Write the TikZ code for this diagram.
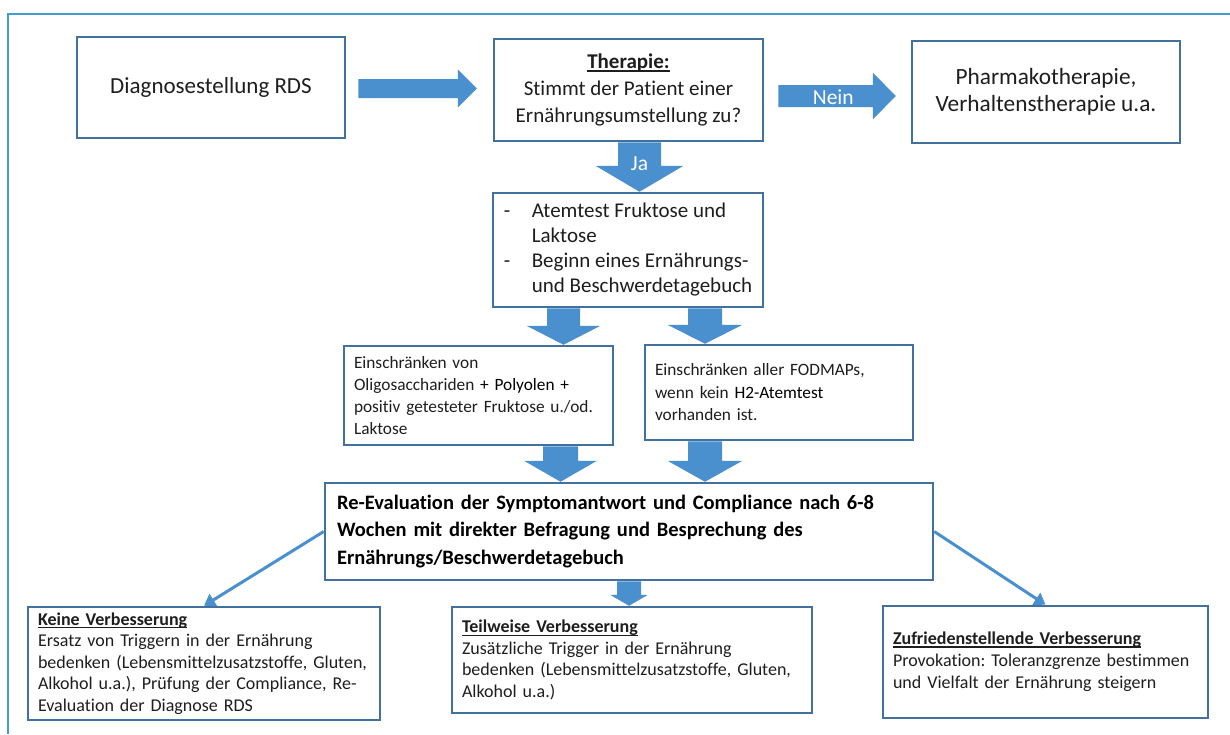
\documentclass[tikz,border=0pt]{standalone}
\usepackage{fontspec}
\setmainfont{Carlito}[Ligatures={NoCommon}]
\usepackage{tikz}
\usetikzlibrary{calc,arrows.meta}
\frenchspacing

\definecolor{boxline}{RGB}{65,113,156}
\definecolor{arrowfill}{RGB}{74,144,206}
\definecolor{framecol}{RGB}{67,155,212}
\definecolor{textgray}{RGB}{30,30,30}

\newsavebox{\hdlbox}
\newcommand{\hdl}[1]{\sbox{\hdlbox}{\textbf{#1}}\rlap{\rule[-3pt]{\wd\hdlbox}{1.3pt}}\usebox{\hdlbox}}
% block arrows: start, tip, shaft half width, head half width, head length
\newcommand{\blockdown}[5]{%
\fill[blockarrow] let \p1=(#1), \p2=(#2) in
(\x1-#3pt,\y1) -- (\x1+#3pt,\y1) -- (\x1+#3pt,\y2+#5pt) -- (\x1+#4pt,\y2+#5pt)
-- (\x1,\y2) -- (\x1-#4pt,\y2+#5pt) -- (\x1-#3pt,\y2+#5pt) -- cycle;}
\newcommand{\blockright}[5]{%
\fill[blockarrow] let \p1=(#1), \p2=(#2) in
(\x1,\y1+#3pt) -- (\x2-#5pt,\y1+#3pt) -- (\x2-#5pt,\y1+#4pt) -- (\x2,\y1)
-- (\x2-#5pt,\y1-#4pt) -- (\x2-#5pt,\y1-#3pt) -- (\x1,\y1-#3pt) -- cycle;}

\begin{document}
\begin{tikzpicture}[x=1pt,y=-1pt]
\tikzset{box/.style={draw=boxline, line width=2.5pt, fill=white, text=textgray, inner sep=0pt}}
\tikzset{textbox/.style={box, align=left, inner xsep=10pt}}
\tikzset{blockarrow/.style={fill=arrowfill}}
\tikzset{thinarrow/.style={draw=arrowfill, line width=3pt, -{Triangle[length=11pt,width=14pt]}}}
\tikzset{arrowlabel/.style={text=white, font=\fontsize{21.5}{25}\selectfont}}
\useasboundingbox (0,0) rectangle (1230,734);
\draw[framecol, line width=2pt] (8,734) -- (8,14) -- (1230,14);

% top row
\node[box, minimum width=268pt, minimum height=101pt, font=\fontsize{23}{28}\selectfont]
(diag) at (211,87.5) {Diagnosestellung RDS};
\node[box, minimum width=269pt, minimum height=102pt, align=center, font=\fontsize{21}{27}\selectfont]
(therapie) at (628.5,90) {\hdl{Therapie:}\\Stimmt der Patient einer\\Ernährungsumstellung zu?};
\node[box, minimum width=268pt, minimum height=102pt, align=center, font=\fontsize{23.3}{27}\selectfont]
(pharma) at (1046,92) {Pharmakotherapie,\\Verhaltenstherapie u.a.};

% diagnostics
\node[box, minimum width=270pt, minimum height=114pt, font=\fontsize{21}{25}\selectfont]
(liste) at (628,250) {\begin{tabular}{@{}p{28pt}@{}l@{}}
-&Atemtest Fruktose und\\&Laktose\\-&Beginn eines Ernährungs-\\&und Beschwerdetagebuch
\end{tabular}};
\node[textbox, minimum width=269pt, minimum height=99pt, text width=249pt, font=\fontsize{17.3}{22}\selectfont]
(einl) at (478.5,395.5) {Einschränken von\\Oligosacchariden \textcolor{black}{+ Polyolen +}\\\mbox{positiv getesteter Fruktose u./od.}\\Laktose};
\node[textbox, minimum width=268pt, minimum height=95pt, text width=248pt, font=\fontsize{17.3}{22.5}\selectfont]
(einr) at (779,392.5) {Einschränken aller FODMAPs,\\wenn kein \textcolor{black}{H2-Atemtest}\\vorhanden ist.};

% re-evaluation
\node[textbox, inner xsep=12pt, minimum width=608pt, minimum height=97pt, text width=584pt, text=black,
font=\bfseries\fontsize{20.5}{27.5}\selectfont]
(reeval) at (629,531.5) {Re-Evaluation der Symptomantwort und Compliance nach 6-8\\Wochen mit direkter Befragung und Besprechung des\\Ernährungs/Beschwerdetagebuch};

% outcomes
\node[textbox, minimum width=352pt, minimum height=113pt, text width=332pt, font=\fontsize{18}{21.5}\selectfont]
(keine) at (204,663.5) {\hdl{Keine Verbesserung}\\Ersatz von Triggern in der Ernährung\\bedenken (Lebensmittelzusatzstoffe, Gluten,\\Alkohol u.a.), Prüfung der Compliance, Re-\\Evaluation der Diagnose RDS};
\node[textbox, minimum width=360pt, minimum height=106pt, text width=340pt, font=\fontsize{18}{21.5}\selectfont]
(teil) at (632,660) {\hdl{Teilweise Verbesserung}\\Zusätzliche Trigger in der Ernährung\\bedenken (Lebensmittelzusatzstoffe, Gluten,\\Alkohol u.a.)};
\node[textbox, minimum width=325pt, minimum height=112pt, text width=305pt, font=\fontsize{18}{22}\selectfont]
(zufr) at (1045.5,662) {\hdl{Zufriedenstellende Verbesserung}\\Provokation: Toleranzgrenze bestimmen\\und Vielfalt der Ernährung steigern};

% block arrows
\coordinate (d1) at ($(diag.east)+(12,1)$);
\coordinate (d2) at ($(therapie.west)+(-16,0)$);
\blockright{d1}{d2}{9.5}{19}{19}
\coordinate (n1) at ($(therapie.east)+(14,6)$);
\coordinate (n2) at ($(pharma.west)+(-15,0)$);
\blockright{n1}{n2}{11}{23.5}{23}
\coordinate (j1) at ($(therapie.south)+(11,0)$);
\blockdown{j1}{liste.north}{21.5}{44}{26}
\coordinate (l1) at ($(liste.south)+(-64.5,0)$);
\blockdown{l1}{einl.north}{16.5}{37}{19}
\coordinate (l2) at ($(liste.south)+(77,0)$);
\blockdown{l2}{einr.north}{17}{37.5}{19}
\coordinate (e1) at ($(einl.south)+(82,0)$);
\blockdown{e1}{reeval.north}{17.5}{36.5}{21}
\coordinate (e2) at ($(einr.south)+(-74,0)$);
\blockdown{e2}{reeval.north}{17}{37.5}{21}
\blockdown{reeval.south}{teil.north}{12}{19}{11}
\node[arrowlabel] (jalabel) at ($(therapie.south)+(11,21)$) {Ja};
\node[arrowlabel] (neinlabel) at ($(therapie.east)+(69,7)$) {Nein};

% outcome connectors
\draw[thinarrow] (reeval.west) -- (keine.north);
\draw[thinarrow] (reeval.east) -- (zufr.north);
\end{tikzpicture}
\end{document}
